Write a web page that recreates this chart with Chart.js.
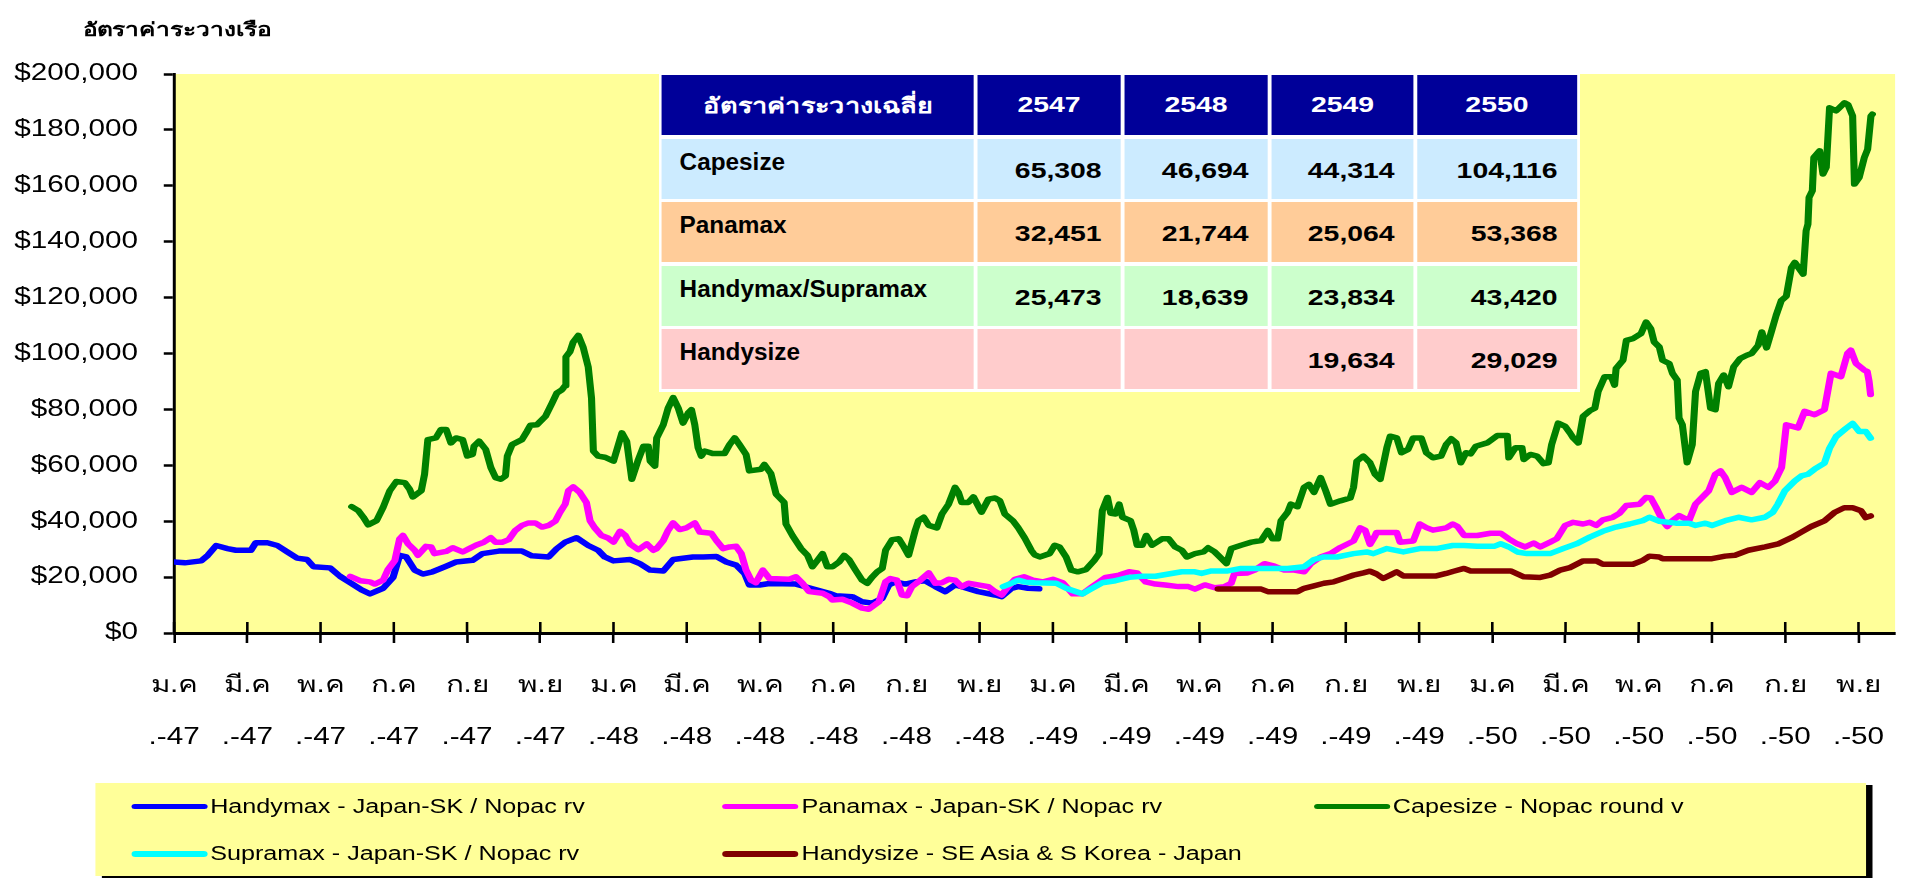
<!DOCTYPE html>
<html>
<head>
<meta charset="utf-8">
<script src="https://cdn.jsdelivr.net/npm/chart.js@4.4.1/dist/chart.umd.min.js"></script>
<style>
html, body { margin: 0; padding: 0; background: #fff; overflow: hidden; }
#wrap { position: relative; width: 1906px; height: 878px; }
#c { position: absolute; left: 0; top: 0; }
#overlay { position: absolute; left: 0; top: 0; width: 1478px; height: 878px; transform: scaleX(1.2896); transform-origin: 0 0;
  font-family: 'Liberation Sans', Arial, 'DejaVu Sans', sans-serif; color: #000; pointer-events: none; }
#title { position: absolute; left: 64px; top: 14px; font-weight: bold; font-size: 19px; }
#avg { position: absolute; left: 511px; top: 73px; width: 714px; box-sizing: border-box; padding: 2px 1.6px; background: #fff;
  display: grid; grid-template-columns: 242.7px 111.7px 111.7px 110.9px 124.1px; grid-auto-rows: 60px; column-gap: 2.3px; row-gap: 3.5px; }
#avg div { box-sizing: border-box; font-weight: bold; }
#avg .hd { background: #000099; color: #fff; display: flex; align-items: center; justify-content: center; font-size: 22px; }
#avg .hd:first-child { font-size: 21px; }
#avg .lab { padding: 10px 0 0 14px; font-size: 23px; white-space: nowrap; }
#avg .lab span { display: inline-block; transform: scaleX(0.82); transform-origin: 0 0; }
#avg .num { display: flex; align-items: center; justify-content: flex-end; padding: 4px 15px 0 0; font-size: 22px; }
#legend { position: absolute; left: 73.7px; top: 783px; width: 1373px; height: 93px; background: #FFFF99; box-shadow: 5px 2px 0 #000;
  display: grid; grid-template-columns: 458.5px 458.5px 458.5px; grid-auto-rows: 47.3px; padding-left: 28px; box-sizing: border-box; }
#legend .item { display: flex; align-items: center; font-size: 19.5px; white-space: nowrap; }
#legend .swatch { width: 59px; height: 5.5px; border-radius: 3px; margin-right: 2.3px; flex: none; }
</style>
</head>
<body>
<div id="wrap">
  <canvas id="c" width="1478" height="878"></canvas>
  <div id="overlay">
    <div id="title">อัตราค่าระวางเรือ</div>
    <div id="avg"></div>
    <div id="legend"></div>
  </div>
</div>
<script>
// x = months since ม.ค.-47 (Jan 2004)
const handymaxMonth = [0,0.29,0.74,0.92,1.15,1.46,1.69,2.10,2.23,2.55,2.82,3.09,3.36,3.63,3.81,4.26,4.53,4.85,5.12,5.35,5.71,5.98,6.16,6.34,6.57,6.79,7.06,7.43,7.70,8.15,8.42,8.87,9.50,9.77,10.23,10.45,10.68,10.99,11.31,11.58,11.76,12.00,12.45,12.72,13.00,13.36,13.63,14.17,14.45,14.81,15.08,15.35,15.58,15.71,15.99,16.26,16.98,17.34,17.89,18.07,18.52,18.79,19.07,19.34,19.52,19.70,19.97,20.24,20.51,20.79,21.06,21.33,21.51,21.96,22.42,22.60,22.87,23.05,23.32,23.62];
const handymaxRate = [25400,25100,25800,27800,31300,30200,29600,29600,32300,32300,31300,29000,26800,26300,23700,23300,20300,17700,15400,14000,16000,19900,27800,27200,22500,21100,21900,23900,25400,26000,28400,29300,29300,27600,27200,30200,32500,34100,31300,29600,27200,25800,26300,24800,22500,22200,26300,27200,27200,27400,25400,24300,21300,17200,17200,17700,17500,16200,14200,13300,13000,11200,10700,12400,17200,18300,17500,18300,18700,16600,14800,17200,16600,14800,13600,13000,16000,16600,16000,15800];

const panamaxMonth = [4.81,5.08,5.35,5.48,5.71,5.84,6.03,6.16,6.25,6.39,6.57,6.66,6.88,7.02,7.11,7.43,7.61,7.88,8.06,8.24,8.46,8.65,8.78,8.96,9.14,9.32,9.50,9.68,9.86,10.05,10.23,10.41,10.54,10.68,10.77,10.90,11.08,11.26,11.36,11.49,11.67,11.85,12.00,12.18,12.32,12.45,12.68,12.91,13.09,13.18,13.36,13.49,13.63,13.81,13.99,14.22,14.36,14.67,14.81,14.99,15.17,15.35,15.49,15.62,15.76,15.89,16.08,16.26,16.80,16.98,17.16,17.34,17.71,17.89,17.98,18.25,18.52,18.79,18.97,19.25,19.43,19.56,19.74,19.88,20.02,20.15,20.38,20.61,20.79,20.97,21.15,21.33,21.51,21.69,21.96,22.24,22.42,22.60,22.78,22.96,23.21,23.46,23.73,24.00,24.27,24.54,24.81,25.08,25.44,25.81,26.08,26.30,26.53,26.80,27.07,27.43,27.70,27.88,28.15,28.42,28.69,28.87,28.96,29.32,29.51,29.78,30.05,30.32,30.59,30.86,31.04,31.31,31.58,31.85,32.21,32.39,32.53,32.66,32.80,32.84,33.39,33.48,33.84,34.02,34.20,34.38,34.74,34.92,35.05,35.23,35.59,35.95,36.23,36.45,36.68,36.90,37.13,37.31,37.58,37.76,37.99,38.21,38.48,38.66,38.84,39.02,39.29,39.47,39.66,40.02,40.20,40.33,40.47,40.65,40.78,40.92,41.10,41.37,41.55,41.91,42.09,42.23,42.36,42.54,42.81,43.08,43.31,43.54,43.72,43.90,44.03,44.35,44.53,44.80,45.07,45.25,45.52,45.70,45.79,45.93,46.15,46.24,46.29,46.33];
const panamaxRate = [20300,18700,18300,17500,18900,22700,26000,33700,34900,31900,29600,27800,31000,30800,28400,29200,30500,29000,30200,31400,32500,34100,32500,32500,33400,36700,38500,39400,39400,37900,38500,40000,43200,46100,50900,52300,50300,46700,40200,37600,34900,34000,32500,36400,34900,31900,29800,31900,29600,30200,33100,36700,39400,37000,37600,39400,36100,35700,33100,30200,30800,31000,28400,22500,18900,18000,22500,19500,19200,20100,17800,14800,14200,13000,11800,12100,10700,8900,8500,11200,18300,19500,18900,13600,13300,16600,18900,21500,17800,18000,19200,18900,16600,17800,17200,16600,14800,13600,16600,19200,20100,18900,18300,19200,18000,14000,14000,16600,19900,20700,21900,21500,18300,17500,17200,16600,16600,15700,17200,16200,16600,17800,21300,21500,22500,24800,23900,22500,22500,21900,24800,27200,28400,30600,32900,37600,36700,31700,34800,36000,36000,32500,32900,39000,37700,36800,37600,39000,38100,34900,34900,35700,35700,33700,31900,30800,32200,30800,32500,33700,38500,39600,39000,39600,38500,40500,41400,42800,45600,46100,48500,48300,45000,40200,38100,40200,42000,40200,46100,50900,56800,58000,55600,50300,52100,50300,53800,52100,54400,59200,74500,73400,79300,78100,79900,92900,91700,100000,101200,96500,94100,93500,90000,85300];

const capesizeMonth = [4.85,5.03,5.17,5.30,5.53,5.71,5.89,6.07,6.30,6.43,6.52,6.75,6.84,6.93,7.15,7.29,7.43,7.56,7.70,7.88,8.01,8.15,8.19,8.33,8.51,8.65,8.78,8.92,9.05,9.10,9.23,9.50,9.64,9.73,9.91,10.14,10.32,10.45,10.59,10.68,10.70,10.81,10.90,11.04,11.17,11.31,11.40,11.45,11.58,11.76,12.00,12.23,12.36,12.50,12.68,12.82,12.95,13.00,13.13,13.18,13.36,13.49,13.63,13.77,13.90,14.04,14.13,14.22,14.31,14.40,14.49,14.72,15.03,15.17,15.31,15.44,15.62,15.71,16.03,16.12,16.30,16.44,16.66,16.71,16.89,17.12,17.30,17.43,17.57,17.71,17.84,17.98,18.16,18.30,18.43,18.61,18.79,18.93,19.07,19.20,19.34,19.43,19.61,19.79,19.93,20.06,20.24,20.33,20.47,20.61,20.83,20.97,21.15,21.33,21.42,21.51,21.69,21.83,22.05,22.24,22.42,22.55,22.69,22.91,23.05,23.23,23.41,23.50,23.64,23.91,24.05,24.18,24.36,24.50,24.68,24.90,25.13,25.26,25.35,25.49,25.58,25.71,25.81,25.90,26.12,26.21,26.30,26.44,26.55,26.71,26.98,27.16,27.34,27.52,27.66,27.88,28.11,28.24,28.42,28.56,28.74,28.87,29.14,29.42,29.69,29.87,30.00,30.14,30.23,30.41,30.50,30.68,30.86,30.99,31.13,31.31,31.45,31.58,31.85,32.12,32.21,32.30,32.48,32.66,32.80,32.94,33.12,33.21,33.39,33.52,33.70,33.84,34.06,34.20,34.38,34.60,34.74,34.88,35.01,35.14,35.28,35.41,35.55,35.86,36.14,36.41,36.45,36.63,36.81,36.86,37.04,37.22,37.40,37.53,37.62,37.80,37.99,38.12,38.21,38.35,38.48,38.66,38.80,38.89,39.07,39.25,39.34,39.38,39.57,39.66,39.84,40.06,40.20,40.33,40.42,40.56,40.65,40.83,40.92,41.05,41.10,41.19,41.32,41.46,41.55,41.69,41.82,41.96,42.09,42.18,42.32,42.45,42.59,42.77,42.95,43.08,43.26,43.36,43.49,43.62,43.75,43.89,44.03,44.17,44.26,44.49,44.57,44.62,44.65,44.74,44.78,44.94,45.03,45.12,45.21,45.39,45.62,45.71,45.84,45.89,46.02,46.16,46.25,46.34,46.38];
const capesizeRate = [45200,43800,41400,38700,40200,45000,50900,54200,53800,51500,48700,50900,56800,69200,69800,72800,72800,68000,69800,69200,63300,63900,66800,68600,65700,59200,55600,55000,56200,63300,67400,69200,72200,74300,74500,77500,82200,85800,87000,88500,98800,100600,104100,106500,102300,95200,84000,65100,63300,62900,61500,71600,68600,55000,62100,66800,66800,61500,59700,69800,74500,80400,84200,80400,75100,78700,79900,74500,66300,63300,65100,64200,64200,67400,69800,67400,63900,58000,58600,60300,57000,49700,46700,39000,34800,30200,27800,23700,26000,28400,23700,23700,25400,27800,26300,22500,18900,17800,20100,21900,23100,29600,33400,33700,30800,27800,36700,40200,41400,38500,37600,42600,46100,52100,50300,46700,46700,48700,43200,47900,48300,47300,42500,40100,37700,34000,29600,28000,27200,28400,31400,30800,27200,22500,21900,22700,26000,28400,43800,48500,42800,42600,46100,41400,40200,36700,31400,31400,34900,31400,33700,33700,30800,29600,27200,28400,29000,30500,29000,27200,24800,30200,31400,32500,33100,36700,33700,33700,40200,43200,46100,45200,52100,53200,50300,55600,50900,46100,47300,48300,52100,61500,63300,60900,56800,55000,66300,70400,69800,64500,65700,69800,69800,64500,62700,63300,67400,69500,68000,60900,64500,64100,66800,68000,70700,70700,62700,66300,66300,62100,63900,63300,60600,60900,67400,75100,73900,71600,69800,68000,77500,79500,80400,86400,91700,91700,88700,94600,97600,104700,105300,107100,111200,108800,104100,102300,97600,96400,92900,90500,76900,74500,60900,67400,86400,92900,93500,80400,79900,89300,92300,88100,95200,98200,99400,100000,102900,107700,102000,107700,113600,118900,120500,130800,132600,128400,143900,146300,155800,158200,170100,172500,164200,166600,187900,186800,189700,189100,185000,160600,163000,170100,173100,185000,185600];

const supramaxMonth = [22.64,22.87,23.05,23.25,23.50,24.09,24.36,24.63,24.81,24.99,25.35,25.71,26.08,26.44,26.80,27.16,27.52,27.88,28.06,28.33,28.78,29.14,29.50,30.05,30.41,30.86,31.13,31.40,31.76,32.21,32.57,32.75,33.12,33.57,34.02,34.47,34.92,35.23,35.59,36.05,36.23,36.45,36.68,36.95,37.58,37.94,38.30,38.66,39.02,39.38,39.75,40.11,40.29,40.56,41.01,41.37,41.55,41.82,42.00,42.36,42.72,43.08,43.44,43.66,43.80,43.99,44.26,44.44,44.62,44.80,45.07,45.21,45.39,45.66,45.84,46.02,46.20,46.33];
const supramaxRate = [16600,17800,18900,18200,18000,17800,16000,14800,14000,15400,18000,18700,19900,20300,20300,21100,21900,21900,21300,22200,22200,23100,23100,23100,23100,23700,26300,27200,27200,28400,29000,28400,30200,29000,30200,30200,31300,31300,31000,31000,31900,30800,29000,28400,28400,30200,31900,34300,36400,37900,39000,40200,41400,40000,39300,39300,38500,39300,38500,40200,41400,40500,41400,43200,46100,50900,54400,56200,56800,58600,60800,66100,70300,73200,75000,72100,72100,69700];

const handysizeMonth = [28.51,28.96,29.69,29.87,30.68,30.86,31.13,31.40,31.67,31.94,32.21,32.48,32.66,32.84,33.02,33.21,33.39,33.57,34.02,34.47,34.74,34.92,35.23,35.41,36.50,36.86,37.31,37.58,37.85,38.12,38.48,38.84,39.02,39.84,40.11,40.29,40.56,40.65,42.00,42.36,42.63,42.99,43.45,43.81,44.17,44.44,44.71,45.07,45.34,45.61,45.84,46.07,46.20,46.33];
const handysizeRate = [15700,15700,15700,14800,14800,16000,16900,17800,18300,19500,20700,21500,22100,21100,19500,20700,21900,20400,20400,20400,21300,22000,23100,22200,22200,20100,19900,20700,22500,23400,25800,25800,24600,24600,26000,27500,27200,26600,26600,27500,27800,29600,30800,31900,34100,36100,38100,40100,43100,44800,44800,43700,41300,41900];

const seriesNames = ['Handymax - Japan-SK / Nopac rv', 'Panamax - Japan-SK / Nopac rv', 'Capesize - Nopac round v',
  'Supramax - Japan-SK / Nopac rv', 'Handysize - SE Asia & S Korea - Japan'];

const xTickTop = ['ม.ค','มี.ค','พ.ค','ก.ค','ก.ย','พ.ย','ม.ค','มี.ค','พ.ค','ก.ค','ก.ย','พ.ย',
  'ม.ค','มี.ค','พ.ค','ก.ค','ก.ย','พ.ย','ม.ค','มี.ค','พ.ค','ก.ค','ก.ย','พ.ย'];
const xTickBottom = ['.-47','.-47','.-47','.-47','.-47','.-47','.-48','.-48','.-48','.-48','.-48','.-48',
  '.-49','.-49','.-49','.-49','.-49','.-49','.-50','.-50','.-50','.-50','.-50','.-50'];

// average rate table
const tableTitle = 'อัตราค่าระวางเฉลี่ย';
const tableYears = ['2547', '2548', '2549', '2550'];
const tableRows = ['Capesize', 'Panamax', 'Handymax/Supramax', 'Handysize'];
const avgCapesize = [65308, 46694, 44314, 104116];
const avgPanamax = [32451, 21744, 25064, 53368];
const avgHandymax = [25473, 18639, 23834, 43420];
const avgHandysize = [null, null, 19634, 29029];
const rowColors = ['#CCEBFF', '#FFCC99', '#CCFFCC', '#FFCCCC'];

const FONT = "'Liberation Sans', Arial, 'DejaVu Sans', sans-serif";
const FULL_W = 1906;
const SX = FULL_W / 1478; // the picture is stretched sideways

function pts(ms, vs) {
    return ms.map((m, i) => ({ x: m, y: vs[i] }));
}

// stretch the drawing, paint the plot background, add the upper half of the x ticks
const stretchPlugin = {
    id: 'stretch',
    beforeDraw(chart) {
        const c = chart.canvas;
        if (c.width !== FULL_W) {
            c.width = FULL_W;
            c.height = 878;
            c.style.width = FULL_W + 'px';
            c.style.height = '878px';
        }
        const ctx = chart.ctx;
        ctx.setTransform(SX, 0, 0, 1, 0, 0);
        const a = chart.chartArea;
        ctx.save();
        ctx.fillStyle = '#FFFF99';
        ctx.fillRect(a.left, a.top, a.right - a.left, a.bottom - a.top);
        ctx.restore();
    },
    afterDraw(chart) {
        const ctx = chart.ctx;
        const xs = chart.scales.x;
        const a = chart.chartArea;
        ctx.save();
        ctx.strokeStyle = '#000';
        ctx.lineWidth = 2;
        xs.ticks.forEach((t, i) => {
            const px = xs.getPixelForTick(i);
            ctx.beginPath();
            ctx.moveTo(px, a.bottom - 11);
            ctx.lineTo(px, a.bottom);
            ctx.stroke();
        });
        ctx.restore();
    }
};

const chart = new Chart(document.getElementById('c').getContext('2d'), {
    type: 'line',
    data: {
        datasets: [
            { label: seriesNames[0], data: pts(handymaxMonth, handymaxRate), borderColor: '#0000FF', order: 5 },
            { label: seriesNames[1], data: pts(panamaxMonth, panamaxRate), borderColor: '#FF00FF', order: 4 },
            { label: seriesNames[2], data: pts(capesizeMonth, capesizeRate), borderColor: '#008000', order: 3 },
            { label: seriesNames[3], data: pts(supramaxMonth, supramaxRate), borderColor: '#00FFFF', order: 2 },
            { label: seriesNames[4], data: pts(handysizeMonth, handysizeRate), borderColor: '#800000', order: 1 }
        ]
    },
    options: {
        responsive: false,
        animation: false,
        devicePixelRatio: 1,
        layout: { padding: { top: 74, right: 1.5, left: 0, bottom: 0 } },
        elements: {
            line: { borderWidth: 5.5, tension: 0, borderJoinStyle: 'round', borderCapStyle: 'round', fill: false },
            point: { radius: 0, hoverRadius: 0 }
        },
        scales: {
            x: {
                type: 'linear',
                min: 0,
                max: 47,
                afterFit: (s) => { s.height = 245; },
                border: { color: '#000', width: 3 },
                grid: { drawOnChartArea: false, tickLength: 10, tickColor: '#000', tickWidth: 2 },
                ticks: {
                    stepSize: 2,
                    includeBounds: false,
                    autoSkip: false,
                    maxRotation: 0,
                    color: '#000',
                    padding: 17,
                    font: { family: FONT, size: 23, lineHeight: 2.26 },
                    callback: (v) => {
                        const i = Math.round(v / 2);
                        return [xTickTop[i], xTickBottom[i]];
                    }
                }
            },
            y: {
                min: 0,
                max: 200000,
                afterFit: (s) => { s.width = 135; },
                border: { color: '#000', width: 2.3 },
                grid: { drawOnChartArea: false, tickLength: 8, tickColor: '#000', tickWidth: 2.5 },
                ticks: {
                    stepSize: 20000,
                    color: '#000',
                    padding: 20,
                    font: { family: FONT, size: 23 },
                    callback: (v) => '$' + v.toLocaleString('en-US')
                }
            }
        },
        plugins: {
            legend: { display: false },
            tooltip: { enabled: false }
        }
    },
    plugins: [stretchPlugin]
});

// table of yearly averages
const avg = document.getElementById('avg');
function cell(cls, text, bg, wrapText) {
    const d = document.createElement('div');
    d.className = cls;
    if (wrapText) {
        const s = document.createElement('span');
        s.textContent = text;
        d.appendChild(s);
    } else {
        d.textContent = text;
    }
    if (bg) d.style.background = bg;
    avg.appendChild(d);
}
cell('hd', tableTitle);
tableYears.forEach(y => cell('hd', y));
[avgCapesize, avgPanamax, avgHandymax, avgHandysize].forEach((vals, r) => {
    cell('lab', tableRows[r], rowColors[r], true);
    vals.forEach(v => cell('num', v == null ? '' : v.toLocaleString('en-US'), rowColors[r]));
});

// legend built from the chart's datasets
const legend = document.getElementById('legend');
chart.data.datasets.forEach(ds => {
    const item = document.createElement('div');
    item.className = 'item';
    const sw = document.createElement('span');
    sw.className = 'swatch';
    sw.style.background = ds.borderColor;
    item.appendChild(sw);
    item.appendChild(document.createTextNode(ds.label));
    legend.appendChild(item);
});
</script>
</body>
</html>
